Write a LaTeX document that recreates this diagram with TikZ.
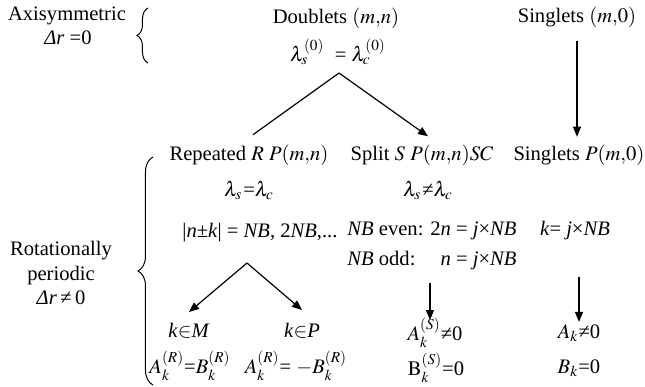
\documentclass[tikz,border=0pt]{standalone}
\usepackage{mathptmx}
\usepackage{fontspec}
\setmainfont{Liberation Serif}
\usetikzlibrary{arrows.meta, positioning, decorations.pathreplacing}
\tikzset{
  lbl/.style={inner sep=0pt, font=\fontsize{10.3}{12.25}\selectfont},
  arrow/.style={-{Triangle[length=5pt,width=4pt]}, line width=0.6pt},
  line/.style={line width=0.6pt},
  rbrace/.style={decorate, decoration={brace, amplitude=#1}, line width=0.5pt}
}

\begin{document}
\begin{tikzpicture}[x=0.5pt, y=-0.5pt]
  \useasboundingbox (0,0) rectangle (645,387);

  % Side labels
  \node[lbl] (axi) at (67,16) {Axisymmetric};
  \node[lbl] (axidr) at (68,38) {\textit{Δr} =0};
  \node[lbl, align=center] (rot) at (61,273) {Rotationally\\periodic\\\textit{Δr}\,≠\,0};

  % Braces
  \draw[rbrace=5.5pt] (148,63) -- (148,8);
  \draw[rbrace=7.5pt] (153,385) -- (153,157);

  % Axisymmetric row
  \node[lbl] (doub) at (336,18) {Doublets $(m{,}n)$};
  \node[lbl] (lam0) at (338,52) {$\lambda_s^{(0)}$\ \ =\ $\lambda_c^{(0)}$};
  \node[lbl] (sing0) at (577,17) {Singlets $(m{,}0)$};

  % Rotationally periodic rows
  \node[lbl] (rep) at (249,155) {Repeated $R$ $P(m{,}n)$};
  \node[lbl] (split) at (422,155) {Split $S$ $P(m{,}n)SC$};
  \node[lbl] (sing1) at (579,155) {Singlets $P(m{,}0)$};
  \node[lbl] (lrep) at (249,190) {$\lambda_s$\kern0.5pt=$\lambda_c$};
  \node[lbl] (lsplit) at (428,190) {$\lambda_s$\kern0.5pt≠$\lambda_c$};
  \node[lbl] (nk) at (260,233) {|\textit{n}±\textit{k}| = \textit{NB}, 2\textit{NB},...};
  \node[lbl, anchor=west] (even) at (347,231) {\textit{NB} even: 2\textit{n} = \textit{j}×\textit{NB}};
  \node[lbl, anchor=west] (odd) at (347,261) {\makebox[0pt][l]{\textit{NB} odd:}\hphantom{\textit{NB} even: 2}\textit{n} = \textit{j}×\textit{NB}};
  \node[lbl] (kj) at (575,231) {\textit{k}= \textit{j}×\textit{NB}};

  % Coefficients
  \node[lbl] (kM) at (189,331) {\textit{k}$\in$\textit{M}};
  \node[lbl] (kP) at (302,331) {\textit{k}$\in$\textit{P}};
  \node[lbl] (AS) at (435,333) {$A_k^{(S)}$≠0};
  \node[lbl] (Ak) at (579,333) {$A_k$≠0};
  \node[lbl] (AB) at (190,366) {$A_k^{(R)}$=$B_k^{(R)}$};
  \node[lbl] (AmB) at (296,366) {$A_k^{(R)}$= $-B_k^{(R)}$};
  \node[lbl] (BS) at (436,368) {$\mathrm{B}_k^{(S)}$=0};
  \node[lbl] (Bk) at (579,368) {$B_k$=0};

  % Connections
  \coordinate (top) at (339,73);
  \coordinate (sub) at (247,263);
  \coordinate (asn) at ([xshift=-2.5pt,yshift=-1pt]AS.north);
  \coordinate (akn) at ([yshift=1pt]Ak.north);
  \draw[line] (top) -- ([xshift=2pt,yshift=4.8pt]rep.north);
  \draw[arrow] (top) -- ([xshift=3pt,yshift=4pt]split.north);
  \draw[arrow, shorten <=6.8pt, shorten >=3.8pt] (sing0.south) -- (sing0.south |- sing1.north);
  \draw[arrow] (sub) -- ([yshift=5.5pt]kM.north);
  \draw[arrow] (sub) -- ([yshift=6.5pt]kP.north);
  \draw[arrow, shorten <=6pt] (asn |- odd.south) -- (asn);
  \draw[arrow, shorten <=18pt] (akn |- kj.south) -- (akn);

\end{tikzpicture}
\end{document}
